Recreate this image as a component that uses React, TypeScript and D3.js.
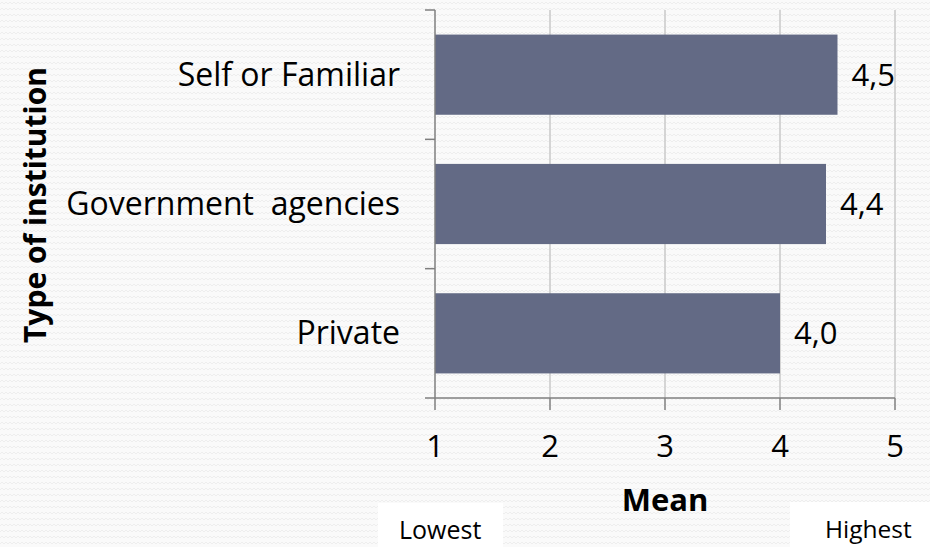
import * as d3 from "d3";

const categories = ["Self or Familiar", "Government  agencies", "Private"];
const means = [4.5, 4.4, 4.0];
const valueLabels = ["4,5", "4,4", "4,0"];
const xTicks = [1, 2, 3, 4, 5];

const W = 930;
const H = 547;
const font = "'Open Sans', 'Liberation Sans', sans-serif";

export default function App() {
  const x = d3.scaleLinear().domain([1, 5]).range([435, 895]);
  const y = d3.scaleBand<string>().domain(categories).range([10, 398]).paddingInner(0.38).paddingOuter(0.19);
  const bandStep = y.step();

  return (
    <svg width={W} height={H} style={{ position: "absolute", left: 0, top: 0 }}>
      <defs>
        <pattern id="wave" width="8" height="6" patternUnits="userSpaceOnUse">
          <path d="M0,4 L2,2 L4,4 L6,2 L8,4" fill="none" stroke="#eeeeee" strokeWidth={1} />
        </pattern>
      </defs>
      <rect width={W} height={H} fill="#fafafa" />
      <rect width={W} height={H} fill="url(#wave)" />

      {xTicks.slice(1).map((t) => (
        <line key={t} x1={x(t)} x2={x(t)} y1={10} y2={398} stroke="#c8c8c8" strokeWidth={1.5} />
      ))}

      {categories.map((c, i) => (
        <rect key={c} x={x(1)} y={y(c)} width={x(means[i]) - x(1)} height={y.bandwidth()} fill="#636a85" />
      ))}

      <line x1={435} x2={435} y1={10} y2={398} stroke="#7f7f7f" strokeWidth={1.5} />
      {[0, 1, 2, 3].map((k) => (
        <line key={k} x1={425} x2={435} y1={10 + k * bandStep} y2={10 + k * bandStep} stroke="#7f7f7f" strokeWidth={1.5} />
      ))}
      <line x1={435} x2={895} y1={398} y2={398} stroke="#7f7f7f" strokeWidth={1.5} />
      {xTicks.map((t) => (
        <line key={t} x1={x(t)} x2={x(t)} y1={398} y2={410} stroke="#7f7f7f" strokeWidth={1.5} />
      ))}

      {xTicks.map((t) => (
        <text key={t} x={x(t)} y={457} textAnchor="middle" fontFamily={font} fontSize={31} fill="#000">
          {t}
        </text>
      ))}

      {categories.map((c) => (
        <text key={c} x={400} y={(y(c) ?? 0) + y.bandwidth() / 2 + 11} textAnchor="end" fontFamily={font} fontSize={32} fill="#000" style={{ whiteSpace: "pre" }}>
          {c}
        </text>
      ))}

      {categories.map((c, i) => (
        <text key={c} x={x(means[i]) + 14} y={(y(c) ?? 0) + y.bandwidth() / 2 + 11} fontFamily={font} fontSize={31} fill="#000">
          {valueLabels[i]}
        </text>
      ))}

      <text x={665} y={511} textAnchor="middle" fontFamily={font} fontSize={31} fontWeight="bold" fill="#000">
        Mean
      </text>
      <text transform="translate(46,205) rotate(-90)" textAnchor="middle" fontFamily={font} fontSize={30} fontWeight="bold" fill="#000">
        Type of institution
      </text>

      <rect x={378} y={503} width={125} height={44} fill="#ffffff" />
      <text x={399} y={539} fontFamily={font} fontSize={25} fill="#000">
        Lowest
      </text>
      <rect x={790} y={502} width={140} height={45} fill="#ffffff" />
      <text x={825} y={538} fontFamily={font} fontSize={24.5} fill="#000">
        Highest
      </text>
    </svg>
  );
}
